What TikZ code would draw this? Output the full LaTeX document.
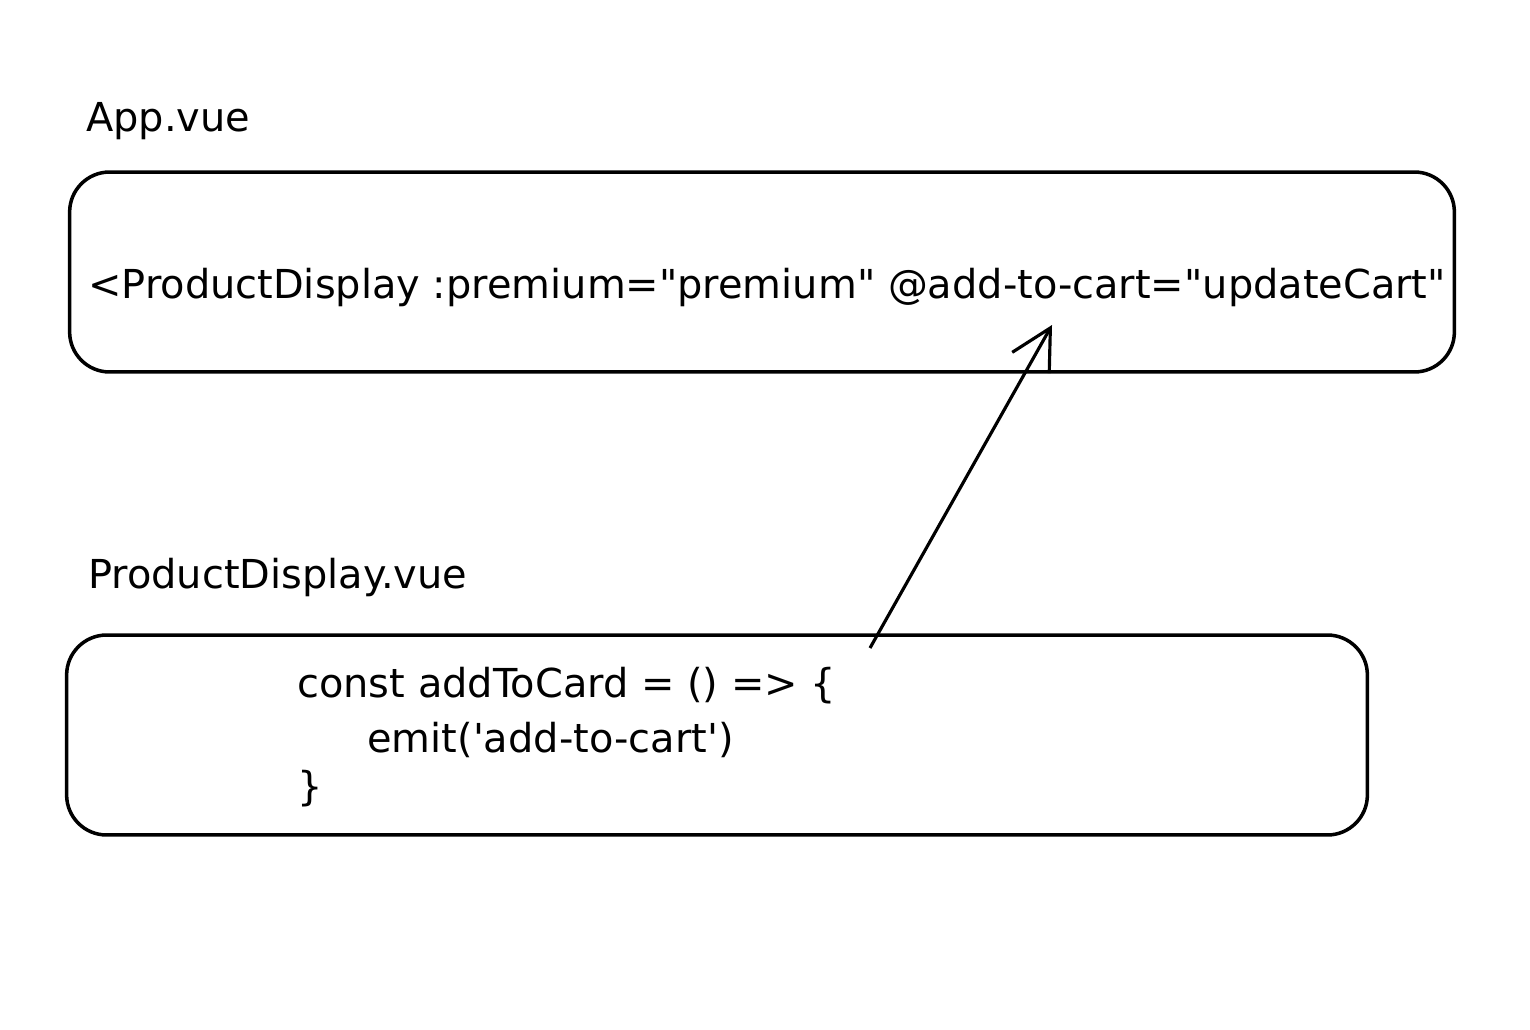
\documentclass[tikz,border=0pt]{standalone}
\usepackage{fontspec}
\newfontfamily\handfont{DejaVu Sans}
\usetikzlibrary{arrows.meta}

\tikzset{
  label text/.style={anchor=base west, inner sep=0pt, font=\handfont\fontsize{22.7}{30}\selectfont},
  code box/.style={draw, line width=2pt, rounded corners=0.8cm, inner sep=0pt}
}

\begin{document}
\begin{tikzpicture}[x=0.02cm, y=-0.02cm, >={Straight Barb[length=0.8cm, width=0.85cm, line width=1.8pt]}]
\useasboundingbox (0,0) rectangle (1530,1030);

% App.vue
\node[label text] (appLabel) at (86,132) {App.vue};
\node[code box, minimum width=27.7cm, minimum height=4cm] (appBox) at (762,272) {};
\node[label text] (appCode) at (88,298) {<ProductDisplay :premium="premium" @add-to-cart="updateCart"};

% ProductDisplay.vue
\node[label text] (pdLabel) at (88,588) {ProductDisplay.vue};
\node[code box, minimum width=26.02cm, minimum height=4cm] (pdBox) at (717,735) {};
\node[label text] (codeA) at (297,697) {const addToCard = () => \{};
\node[label text] (codeB) at (367,752) {emit(\textquotesingle add-to-cart\textquotesingle)};
\node[label text] (codeC) at (297,800) {\}};

% emit
\coordinate (emitSrc) at (870,648);
\coordinate (emitTip) at (1052,325);
\draw[->, line width=1.8pt] (emitSrc) -- (emitTip);
\end{tikzpicture}
\end{document}
